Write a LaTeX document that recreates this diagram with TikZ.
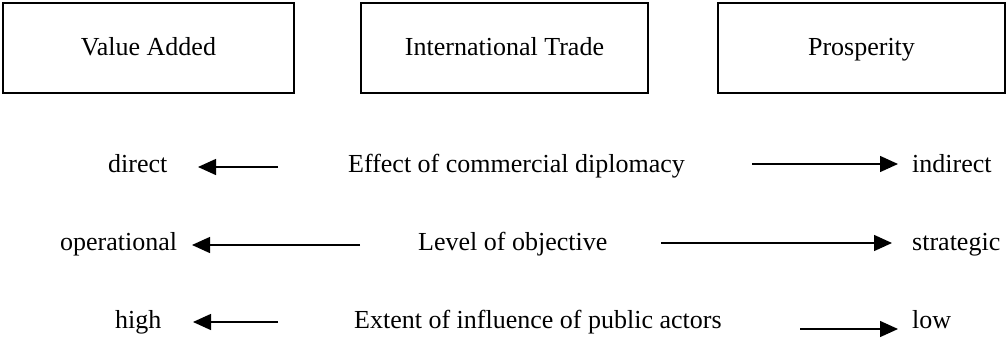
\documentclass[tikz,border=0pt]{standalone}
\usepackage{fontspec}
\setmainfont{Liberation Serif}
\usetikzlibrary{arrows.meta}
\tikzset{
  box/.style={draw,line width=1.5pt,minimum width=287pt,minimum height=90pt,inner sep=0pt,
    text height=18pt,text depth=4pt},
  lbl/.style={anchor=base west,inner sep=0pt},
  dirline/.style={line width=1.4pt,-{Triangle[length=18pt,width=16pt]}}
}
\begin{document}
\begin{tikzpicture}[x=1pt,y=-1pt,font=\fontsize{26}{31}\selectfont]
\useasboundingbox (0,0) rectangle (1006,340);
% the three boxes
\node[box,minimum width=291pt] (value) at (148.5,48) {Value Added};
\node[box] (trade) at (504.5,48) {International Trade};
\node[box] (prosp) at (861.5,48) {Prosperity};
% row texts
\node[lbl] (direct) at (108,172) {direct};
\node[lbl] (effect) at (348,172) {Effect of commercial diplomacy};
\node[lbl] (indirect) at (912,172) {indirect};
\node[lbl] (operational) at (60,250) {operational};
\node[lbl] (level) at (418,250) {Level of objective};
\node[lbl] (strategic) at (912,250) {strategic};
\node[lbl] (high) at (115,328) {high};
\node[lbl] (extent) at (354,328) {Extent of influence of public actors};
\node[lbl] (low) at (912,328) {low};
% arrow ends
\coordinate (d1) at (278,167); \coordinate (d2) at (198,167);
\coordinate (i1) at (752,164); \coordinate (i2) at (898,164);
\coordinate (o1) at (360,245); \coordinate (o2) at (192,245);
\coordinate (s1) at (661,243); \coordinate (s2) at (892,243);
\coordinate (h1) at (278,322); \coordinate (h2) at (193,322);
\coordinate (l1) at (800,329); \coordinate (l2) at (898,329);
\foreach \a/\b in {d1/d2,i1/i2,o1/o2,s1/s2,h1/h2,l1/l2}
  \draw[dirline] (\a) -- (\b);
\end{tikzpicture}
\end{document}
